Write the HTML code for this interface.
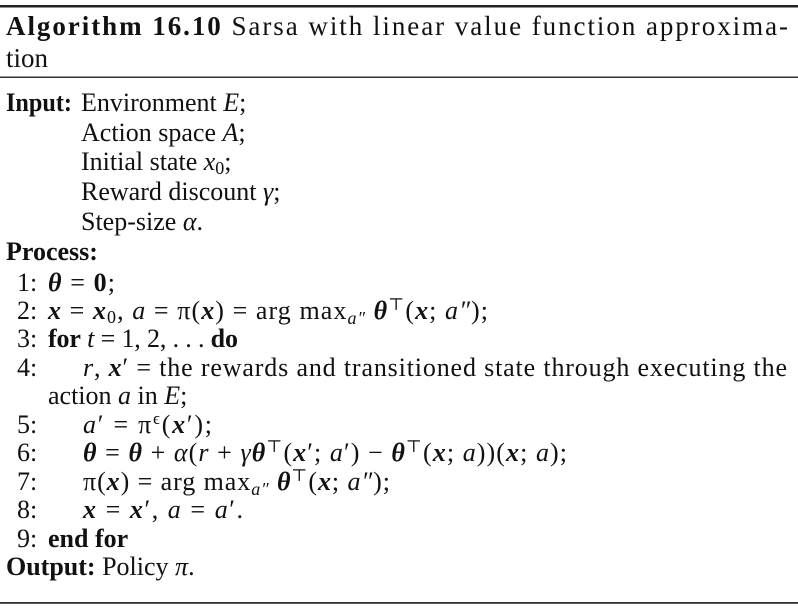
<!DOCTYPE html>
<html><head><meta charset="utf-8"><style>
html,body{margin:0;padding:0;background:#fff;}
svg{display:block;}
text{font-family:"Liberation Serif","DejaVu Serif",serif;font-size:26px;fill:#111;}
.b{font-weight:bold;}
.i{font-style:italic;}
.bi{font-weight:bold;font-style:italic;}
</style></head><body>
<svg width="798" height="609" viewBox="0 0 798 609">
<rect x="0" y="5" width="798" height="2.5" fill="#222"/>
<text x="6" y="35" style="font-size:27px" textLength="782" lengthAdjust="spacing"><tspan class="b">Algorithm 16.10</tspan> Sarsa with linear value function approxima-</text>
<text x="6" y="67" style="font-size:27px">tion</text>
<rect x="0" y="76.5" width="798" height="1.5" fill="#333"/>

<text x="6" y="111" class="b" textLength="66" lengthAdjust="spacingAndGlyphs">Input:</text>
<text x="81" y="111">Environment <tspan class="i">E</tspan>;</text>
<text x="81" y="141">Action space <tspan class="i">A</tspan>;</text>
<text x="81" y="170">Initial state <tspan class="i">x</tspan><tspan style="font-size:18px" dy="4">0</tspan><tspan dy="-4">;</tspan></text>
<text x="81" y="200">Reward discount <tspan class="i">γ</tspan>;</text>
<text x="81" y="230">Step-size <tspan class="i">α</tspan>.</text>
<text x="6" y="260" class="b">Process:</text>

<text x="17" y="291">1:</text>
<text x="48" y="291" textLength="67" lengthAdjust="spacing"><tspan class="bi">θ</tspan> = <tspan class="b">0</tspan>;</text>
<text x="17" y="319">2:</text>
<text x="48" y="319" textLength="440" lengthAdjust="spacing"><tspan class="bi">x</tspan> = <tspan class="bi">x</tspan><tspan style="font-size:18px" dy="4">0</tspan><tspan dy="-4">, </tspan><tspan class="i">a</tspan> = π(<tspan class="bi">x</tspan>) = arg max<tspan class="i" style="font-size:18px" dy="5">a″</tspan><tspan dy="-5"> </tspan><tspan class="bi">θ</tspan><tspan style="font-size:17px" dy="-9">⊤</tspan><tspan dy="9">(</tspan><tspan class="bi">x</tspan>; <tspan class="i">a″</tspan>);</text>
<text x="17" y="347">3:</text>
<text x="48" y="347" textLength="190" lengthAdjust="spacing"><tspan class="b">for</tspan> <tspan class="i">t</tspan> = 1, 2, . . . <tspan class="b">do</tspan></text>
<text x="17" y="376">4:</text>
<text x="83" y="376" textLength="704" lengthAdjust="spacing"><tspan class="i">r</tspan>, <tspan class="bi">x</tspan>′ = the rewards and transitioned state through executing the</text>
<text x="48" y="404">action <tspan class="i">a</tspan> in <tspan class="i">E</tspan>;</text>
<text x="17" y="433">5:</text>
<text x="83" y="433" textLength="129" lengthAdjust="spacing"><tspan class="i">a</tspan>′ = π<tspan style="font-size:17px" dy="-9">ϵ</tspan><tspan dy="9">(</tspan><tspan class="bi">x</tspan>′);</text>
<text x="17" y="461">6:</text>
<text x="83" y="461" textLength="484" lengthAdjust="spacing"><tspan class="bi">θ</tspan> = <tspan class="bi">θ</tspan> + <tspan class="i">α</tspan>(<tspan class="i">r</tspan> + <tspan class="i">γ</tspan><tspan class="bi">θ</tspan><tspan style="font-size:17px" dy="-9">⊤</tspan><tspan dy="9">(</tspan><tspan class="bi">x</tspan>′; <tspan class="i">a</tspan>′) − <tspan class="bi">θ</tspan><tspan style="font-size:17px" dy="-9">⊤</tspan><tspan dy="9">(</tspan><tspan class="bi">x</tspan>; <tspan class="i">a</tspan>))(<tspan class="bi">x</tspan>; <tspan class="i">a</tspan>);</text>
<text x="17" y="490">7:</text>
<text x="83" y="490" textLength="307" lengthAdjust="spacing">π(<tspan class="bi">x</tspan>) = arg max<tspan class="i" style="font-size:18px" dy="5">a″</tspan><tspan dy="-5"> </tspan><tspan class="bi">θ</tspan><tspan style="font-size:17px" dy="-9">⊤</tspan><tspan dy="9">(</tspan><tspan class="bi">x</tspan>; <tspan class="i">a″</tspan>);</text>
<text x="17" y="518">8:</text>
<text x="83" y="518" textLength="160" lengthAdjust="spacing"><tspan class="bi">x</tspan> = <tspan class="bi">x</tspan>′, <tspan class="i">a</tspan> = <tspan class="i">a</tspan>′.</text>
<text x="17" y="547">9:</text>
<text x="48" y="547" class="b">end for</text>
<text x="6" y="575"><tspan class="b">Output:</tspan> Policy <tspan class="i">π</tspan>.</text>
<rect x="0" y="602" width="798" height="1.8" fill="#333"/>
</svg>
</body></html>
